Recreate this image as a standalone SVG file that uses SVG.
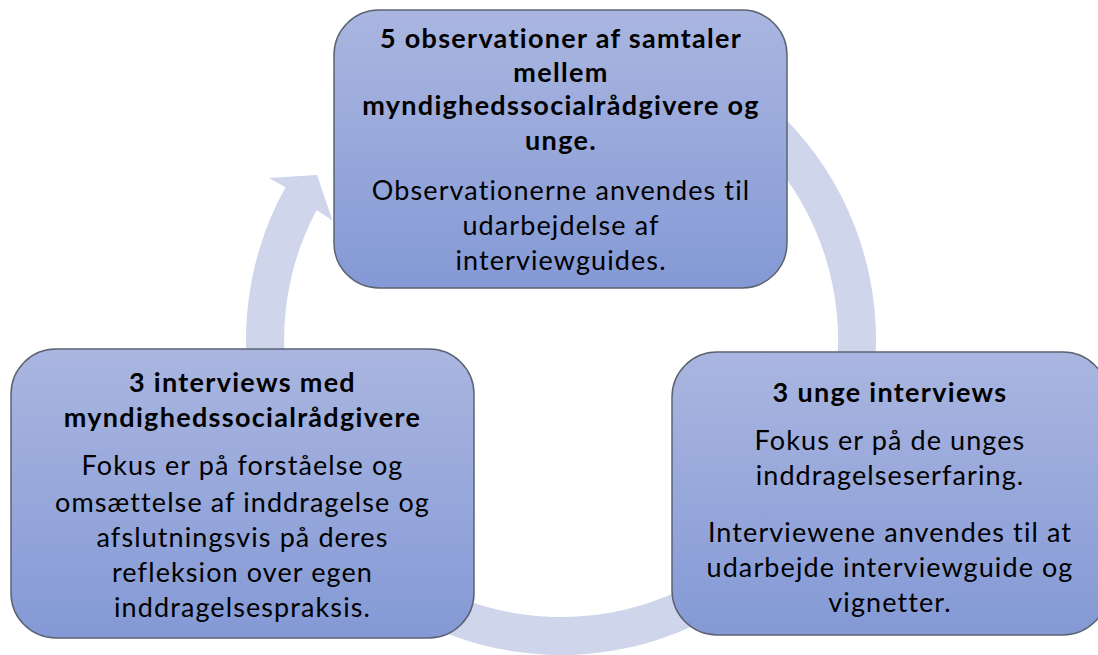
<svg xmlns="http://www.w3.org/2000/svg" width="1098" height="655" viewBox="0 0 1098 655">
<defs>
<linearGradient id="boxGrad" x1="0" y1="0" x2="0" y2="1">
<stop offset="0" stop-color="#AAB6E0"/>
<stop offset="1" stop-color="#8499D5"/>
</linearGradient>
<style>
.box{fill:url(#boxGrad);stroke:#5B6373;stroke-width:1.5}
.t{font-family:Lato,"Liberation Sans",sans-serif;font-size:27px;fill:#000;text-anchor:middle;letter-spacing:1.1px;font-variant-ligatures:none;font-feature-settings:"liga" 0}
.b{font-weight:bold;letter-spacing:1.3px}
.arrow{fill:#CFD5EA}
</style>
</defs>
<rect width="1098" height="655" fill="#FFFFFF"/>
<g id="connectors">
<path class="arrow" d="M588.5 26.2 A315 315 0 1 1 285.5 187.3 L269 178 L317 175 L332.5 220.5 L316.6 209.9 A277 277 0 1 0 585.2 64.1 Z"/>
</g>
<g id="node-top">
<rect class="box" x="334" y="10" width="453" height="278" rx="45" ry="45"/>
<text class="t b" x="561" y="48">5 observationer af samtaler</text>
<text class="t b" x="561" y="82">mellem</text>
<text class="t b" x="561" y="115">myndighedssocialrådgivere og</text>
<text class="t b" x="561" y="150">unge.</text>
<text class="t" x="561" y="200">Observationerne anvendes til</text>
<text class="t" x="561" y="235">udarbejdelse af</text>
<text class="t" x="561" y="270">interviewguides.</text>
</g>
<g id="node-left">
<rect class="box" x="11" y="349" width="463" height="289" rx="45" ry="45"/>
<text class="t b" x="242.5" y="392">3 interviews med</text>
<text class="t b" x="242.5" y="427">myndighedssocialrådgivere</text>
<text class="t" x="242.5" y="475">Fokus er på forståelse og</text>
<text class="t" x="242.5" y="512">omsættelse af inddragelse og</text>
<text class="t" x="242.5" y="547">afslutningsvis på deres</text>
<text class="t" x="242.5" y="582">refleksion over egen</text>
<text class="t" x="242.5" y="617">inddragelsespraksis.</text>
</g>
<g id="node-right">
<rect class="box" x="672" y="352" width="436" height="283" rx="45" ry="45"/>
<text class="t b" x="890" y="402">3 unge interviews</text>
<text class="t" x="890" y="450">Fokus er på de unges</text>
<text class="t" x="890" y="485">inddragelseserfaring.</text>
<text class="t" x="890" y="542">Interviewene anvendes til at</text>
<text class="t" x="890" y="577">udarbejde interviewguide og</text>
<text class="t" x="890" y="612">vignetter.</text>
</g>
</svg>
